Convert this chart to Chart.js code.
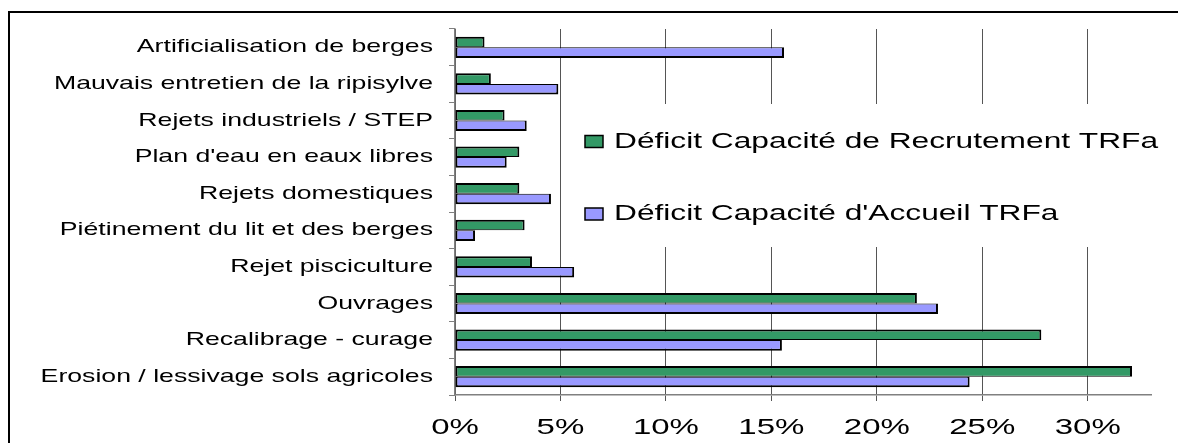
<!DOCTYPE html>
<html lang="fr">
<head>
<meta charset="utf-8">
<title>Déficits TRFa par altération</title>
<script src="https://cdn.jsdelivr.net/npm/chart.js@4/dist/chart.umd.min.js"></script>
<style>
  html, body { margin: 0; padding: 0; background: #fff; }
  #wrap { position: relative; width: 1178px; height: 443px; }
</style>
</head>
<body>
<div id="wrap"><canvas id="deficitChart" width="1178" height="443"></canvas></div>
<script>
const categories = [
  'Artificialisation de berges',
  'Mauvais entretien de la ripisylve',
  'Rejets industriels / STEP',
  "Plan d'eau en eaux libres",
  'Rejets domestiques',
  'Piétinement du lit et des berges',
  'Rejet pisciculture',
  'Ouvrages',
  'Recalibrage - curage',
  'Erosion / lessivage sols agricoles',
];

// values in %
const recrutement = [1.4, 1.7, 2.35, 3.05, 3.05, 3.3, 3.65, 21.9, 27.8, 32.1];
const accueil = [15.6, 4.9, 3.4, 2.45, 4.55, 0.95, 5.65, 22.9, 15.5, 24.4];

const seriesLabels = [
  'Déficit Capacité de Recrutement TRFa',
  "Déficit Capacité d'Accueil TRFa",
];

const FONT = "'Liberation Sans', Arial, sans-serif";
const STRETCH = 1.44; // text is drawn wide, like the original export

function wideText(ctx, text, x, y, align, sx) {
  ctx.save();
  ctx.translate(x, y);
  ctx.scale(sx, 1);
  ctx.textAlign = align;
  ctx.fillText(text, 0, 0);
  ctx.restore();
}

// outer frame of the chart object
const framePlugin = {
  id: 'frame',
  beforeDraw(chart) {
    const ctx = chart.ctx;
    ctx.save();
    ctx.fillStyle = '#fff';
    ctx.fillRect(0, 0, chart.width, chart.height);
    ctx.strokeStyle = '#000';
    ctx.lineWidth = 2;
    ctx.strokeRect(9, 12, 2000, 2000);
    ctx.restore();
  },
};

// axis labels, drawn stretched at the scales' own tick positions
const wideTicks = {
  id: 'wideTicks',
  afterDraw(chart) {
    const ctx = chart.ctx;
    const y = chart.scales.y;
    const x = chart.scales.x;
    ctx.save();
    ctx.fillStyle = '#000';
    ctx.textBaseline = 'middle';
    ctx.font = '18.5px ' + FONT;
    y.ticks.forEach((t, i) => {
      wideText(ctx, chart.data.labels[i], 433, y.getPixelForTick(i), 'right', STRETCH);
    });
    ctx.font = '22px ' + FONT;
    x.ticks.forEach((t, i) => {
      wideText(ctx, t.value + '%', x.getPixelForTick(i), 428, 'center', 1.5);
    });
    ctx.restore();
  },
};

// legend sits inside the plot, on a white box over the gridlines
const boxLegend = {
  id: 'boxLegend',
  afterDatasetsDraw(chart) {
    const ctx = chart.ctx;
    ctx.save();
    ctx.fillStyle = '#fff';
    ctx.fillRect(567, 104, 600, 143);
    ctx.font = '22px ' + FONT;
    ctx.textBaseline = 'alphabetic';
    const rows = [147.5, 220];
    chart.data.datasets.forEach((ds, i) => {
      const y = rows[i];
      ctx.fillStyle = ds.backgroundColor;
      ctx.fillRect(585, y - 12, 18, 12);
      ctx.strokeStyle = '#000';
      ctx.lineWidth = 1.5;
      ctx.strokeRect(585, y - 12, 18, 12);
      ctx.fillStyle = '#000';
      wideText(ctx, ds.label, 614, y, 'left', STRETCH);
    });
    ctx.restore();
  },
};

const ctx = document.getElementById('deficitChart').getContext('2d');

new Chart(ctx, {
  type: 'bar',
  data: {
    labels: categories,
    datasets: [
      {
        label: seriesLabels[0],
        data: recrutement,
        backgroundColor: '#339966',
        borderColor: '#000',
        borderWidth: { top: 2, right: 2, bottom: 1, left: 2 },
        borderSkipped: false,
      },
      {
        label: seriesLabels[1],
        data: accueil,
        backgroundColor: '#9999ff',
        borderColor: '#000',
        borderWidth: { top: 1, right: 2, bottom: 2, left: 2 },
        borderSkipped: false,
      },
    ],
  },
  options: {
    indexAxis: 'y',
    responsive: false,
    animation: false,
    categoryPercentage: 0.58,
    barPercentage: 1.0,
    layout: { padding: { left: 0, top: 29, right: 27, bottom: 0 } },
    plugins: {
      legend: { display: false },
      tooltip: { enabled: false },
    },
    scales: {
      x: {
        min: 0,
        max: 33,
        ticks: {
          stepSize: 5,
          includeBounds: false,
          color: 'rgba(0,0,0,0)',
          font: { family: FONT, size: 22 },
          callback: (v) => v + '%',
        },
        grid: { color: '#555', lineWidth: 1, tickLength: 6 },
        border: { color: '#808080', width: 1.5 },
        afterFit: (scale) => { scale.height = 48; },
      },
      y: {
        ticks: {
          color: 'rgba(0,0,0,0)',
          font: { family: FONT, size: 17 },
        },
        grid: { drawOnChartArea: false, color: '#808080', tickLength: 6, offset: true },
        border: { color: '#808080', width: 1.5 },
        afterFit: (scale) => { scale.width = 455; },
      },
    },
  },
  plugins: [framePlugin, boxLegend, wideTicks],
});
</script>
</body>
</html>
